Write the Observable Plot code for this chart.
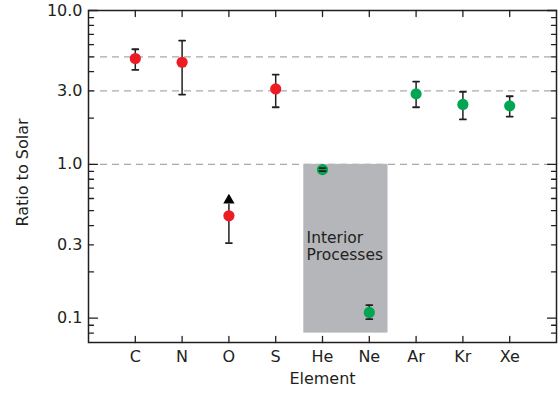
<!DOCTYPE html>
<html>
<head>
<meta charset="utf-8">
<script src="https://cdn.jsdelivr.net/npm/d3@7"></script>
<script src="https://cdn.jsdelivr.net/npm/@observablehq/plot@0.6"></script>
<style>
  html, body { margin: 0; padding: 0; background: #fff; }
  #chart svg { display: block; }
</style>
</head>
<body>
<div id="chart"></div>
<script>
// ---- data ----
const elements = ["C", "N", "O", "S", "He", "Ne", "Ar", "Kr", "Xe"];
const ratio    = [4.87, 4.61, 0.463, 3.09, 0.924, 0.109, 2.87, 2.45, 2.40];
const lower    = [4.11, 2.84, 0.308, 2.35, 0.903, 0.0986, 2.35, 1.96, 2.04];
const upper    = [5.60, 6.38, null,  3.83, 0.945, 0.1216, 3.45, 2.96, 2.77];
const group    = ["red", "red", "red", "red", "green", "green", "green", "green", "green"];
// lower-limit arrow for O
const arrowElement = "O";
const arrowBase = 0.55;
const arrowTip = 0.585;
// reference lines
const refLines = [1, 3, 5];
// shaded region
const regionX = [4.6, 6.4];
const regionY = [0.08, 1.0];
const regionLabelLines = ["Interior", "Processes"];
const regionLabelY = [0.331, 0.258];
const regionLabelX = 4.66;
// axis ticks
const yTickLabels = [0.1, 0.3, 1, 3, 10];
const yTickText = ["0.1", "0.3", "1.0", "3.0", "10.0"];
const yMajorTicks = [0.1, 1, 10];
const yMinorTicks = [0.08, 0.09, 0.2, 0.3, 0.4, 0.5, 0.6, 0.7, 0.8, 0.9, 2, 3, 4, 5, 6, 7, 8, 9];
const xTicks = [1, 2, 3, 4, 5, 6, 7, 8, 9];

const colors = {red: "#ed1c24", green: "#00a651"};
const ink = "#231f20";

const rows = elements.map((e, i) => ({
  element: e, pos: i + 1, ratio: ratio[i], lower: lower[i], upper: upper[i], group: group[i]
}));
const withUpper = rows.filter(d => d.upper != null);
const arrowRow = rows.filter(d => d.element === arrowElement);

const line = {draw(context, l) { context.moveTo(0, 0); context.lineTo(0, -l); }};

const chart = Plot.plot({
  width: 560,
  height: 394,
  marginLeft: 88,
  marginRight: 4,
  marginTop: 10,
  marginBottom: 52,
  x: {type: "linear", domain: [0, 10], axis: null},
  y: {type: "log", domain: [0.0695, 10], axis: null},
  style: {fontFamily: "DejaVu Sans, sans-serif", fontSize: "16px", background: "white"},
  marks: [
    Plot.ruleY(refLines, {y: d => d, stroke: "#a9a9a9", strokeWidth: 1.3, strokeDasharray: "7,5"}),
    Plot.rect([0], {x1: () => regionX[0], x2: () => regionX[1], y1: () => regionY[0], y2: () => regionY[1], fill: "#b5b6b9"}),
    Plot.text(regionLabelLines, {x: () => regionLabelX, y: (d, i) => regionLabelY[i], text: d => d,
      textAnchor: "start", fontSize: 15.5, fill: ink}),
    // error bars
    Plot.ruleX(rows, {x: "pos", y1: "lower", y2: d => d.upper ?? d.ratio, stroke: ink, strokeWidth: 1.5}),
    Plot.ruleX(arrowRow, {x: "pos", y1: "ratio", y2: () => arrowBase, stroke: ink, strokeWidth: 1.5}),
    Plot.dot(arrowRow, {x: "pos", y: () => arrowTip, symbol: "triangle", r: 4.2, fill: "black"}),
    Plot.dot(rows, {x: "pos", y: "ratio", r: 5.6, fill: d => colors[d.group]}),
    Plot.vector(rows, {x: "pos", y: "lower", length: 6, rotate: 90, anchor: "middle", shape: line, stroke: ink, strokeWidth: 1.8}),
    Plot.vector(withUpper, {x: "pos", y: "upper", length: 6, rotate: 90, anchor: "middle", shape: line, stroke: ink, strokeWidth: 1.8}),
    // frame & ticks
    Plot.frame({stroke: ink, strokeWidth: 1.5}),
    Plot.vector(xTicks, {x: d => d, frameAnchor: "bottom", length: 6, rotate: 0, anchor: "start", shape: line, stroke: ink, strokeWidth: 1.3}),
    Plot.vector(xTicks, {x: d => d, frameAnchor: "top", length: 6, rotate: 180, anchor: "start", shape: line, stroke: ink, strokeWidth: 1.3}),
    Plot.vector(yMajorTicks, {y: d => d, frameAnchor: "left", length: 9, rotate: 90, anchor: "start", shape: line, stroke: ink, strokeWidth: 1.3}),
    Plot.vector(yMinorTicks, {y: d => d, frameAnchor: "left", length: 5, rotate: 90, anchor: "start", shape: line, stroke: ink, strokeWidth: 1.3}),
    Plot.vector(yMajorTicks, {y: d => d, frameAnchor: "right", length: 9, rotate: -90, anchor: "start", shape: line, stroke: ink, strokeWidth: 1.3}),
    Plot.vector(yMinorTicks, {y: d => d, frameAnchor: "right", length: 5, rotate: -90, anchor: "start", shape: line, stroke: ink, strokeWidth: 1.3}),
    // tick labels
    Plot.text(yTickLabels, {y: d => d, text: (d, i) => yTickText[i], frameAnchor: "left", dx: -6, textAnchor: "end", fontSize: 16, fill: ink}),
    Plot.text(elements, {x: (d, i) => xTicks[i], text: d => d, frameAnchor: "bottom", dy: 19.5, fontSize: 16, fill: ink}),
    // axis titles
    Plot.text(["Element"], {text: d => d, frameAnchor: "bottom", dy: 41, textAnchor: "middle", fontSize: 16, fill: ink}),
    Plot.text(["Ratio to Solar"], {text: d => d, frameAnchor: "left", dx: -66, dy: -4, rotate: -90, textAnchor: "middle", fontSize: 16, fill: ink})
  ]
});
document.getElementById("chart").appendChild(chart);
</script>
</body>
</html>
